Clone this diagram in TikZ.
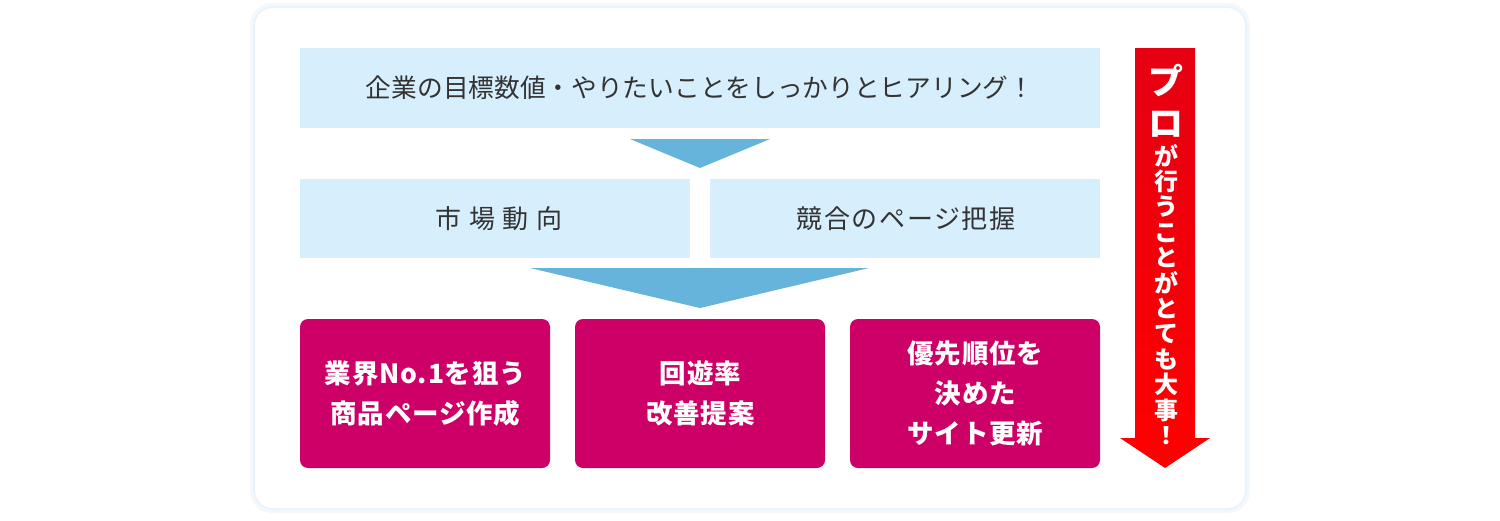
\documentclass[tikz,border=0pt]{standalone}
\usepackage{fontspec}
\setmainfont{Noto Sans CJK JP}
\newfontfamily\topfont{Noto Sans CJK JP}[LetterSpace=0]
\newfontfamily\midfont{Noto Sans CJK JP}[LetterSpace=6]
\newfontfamily\widefont{Noto Sans CJK JP}[LetterSpace=30]
\newfontfamily\boxfont{Noto Sans CJK JP}[LetterSpace=3]
\definecolor{panelshadow}{HTML}{EAF2FB}
\definecolor{panelglow}{HTML}{F3F8FD}
\definecolor{lightbox}{HTML}{D7EEFC}
\definecolor{tri}{HTML}{66B3DC}
\definecolor{magenta}{HTML}{CC0066}
\definecolor{txt}{HTML}{333333}
\definecolor{redtop}{HTML}{E50012}
\definecolor{redbot}{HTML}{FF0000}
\begin{document}
\begin{tikzpicture}[x=1pt,y=-1pt,
  infobox/.style={fill=lightbox, draw=none},
  resultbox/.style={fill=magenta, draw=none, rounded corners=8pt},
  flowtri/.style={fill=tri, draw=none},
  infotext/.style={text=txt, inner sep=0pt, anchor=center},
  resulttext/.style={text=white, inner sep=0pt, align=center, font=\boxfont\bfseries\fontsize{26.5}{40}\selectfont}]
\useasboundingbox (0,0) rectangle (1500,520);
% panel
\path[fill=panelglow, rounded corners=22pt] (250,3) rectangle (1250,513);
\path[fill=panelshadow, rounded corners=20pt] (253,6) rectangle (1247,510);
\path[fill=white, rounded corners=18pt] (255,8) rectangle (1245,508);
% top box
\path[infobox] (300,48) rectangle (1100,128);
\node[infotext, font=\topfont\fontsize{25.7}{28}\selectfont] (top) at (700,88) {企業の目標数値・やりたいことをしっかりとヒアリング！};
% triangle 1
\coordinate (t1a) at (630,139);
\coordinate (t1b) at (770,139);
\coordinate (t1c) at (700,168);
\path[flowtri] (t1a) -- (t1b) -- (t1c) -- cycle;
% row 2
\path[infobox] (300,179) rectangle (690,258);
\path[infobox] (710,179) rectangle (1100,258);
\node[infotext, font=\widefont\fontsize{26}{28}\selectfont] (market) at (499,218.5) {市場動向};
\node[infotext, font=\midfont\fontsize{26}{28}\selectfont] (rival) at (906,218.5) {競合のページ把握};
% triangle 2
\coordinate (t2a) at (530,268);
\coordinate (t2b) at (869,268);
\coordinate (t2c) at (700,308);
\path[flowtri] (t2a) -- (t2b) -- (t2c) -- cycle;
% bottom boxes
\path[resultbox] (300,319) rectangle (550,468);
\path[resultbox] (575,319) rectangle (825,468);
\path[resultbox] (850,319) rectangle (1100,468);
\node[resulttext] (r1) at (425.5,393.5) {業界No.1を狙う\\商品ページ作成};
\node[resulttext] (r2) at (700.5,393.5) {回遊率\\改善提案};
\node[resulttext] (r3) at (975.5,393.5) {優先順位を\\決めた\\サイト更新};
% red arrow
\path[top color=redtop, bottom color=redbot, draw=none]
  (1135,48) -- (1195,48) -- (1195,438) -- (1210,438) -- (1165,468) -- (1120,438) -- (1135,438) -- cycle;
\node[text=white, inner sep=0pt, align=center, font=\bfseries\fontsize{35}{42}\selectfont] (pro) at (1166,101) {プ\\ロ};
\node[text=white, inner sep=0pt, align=center, font=\bfseries\fontsize{24}{25.4}\selectfont] (vert) at (1166,294.5) {が\\行\\う\\こ\\と\\が\\と\\て\\も\\大\\事\\！};
\end{tikzpicture}
\end{document}
